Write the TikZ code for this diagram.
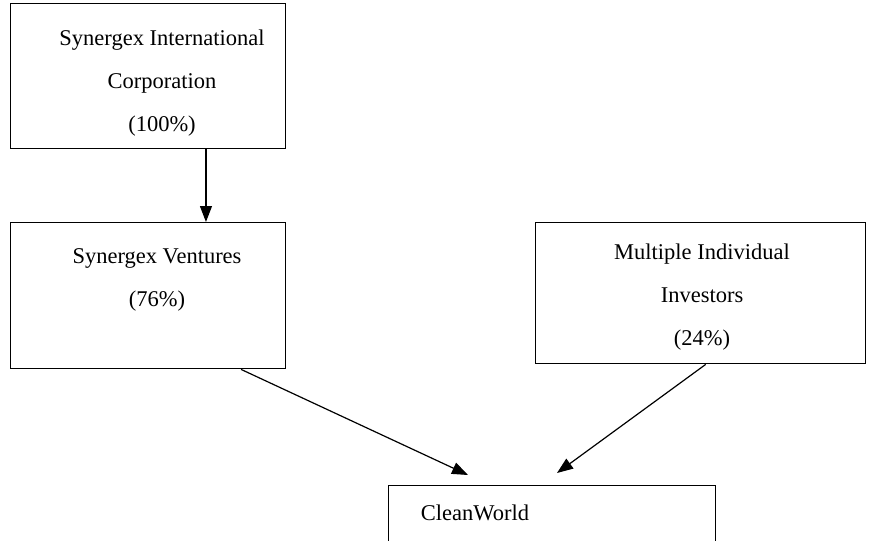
\documentclass[tikz,border=0pt]{standalone}
\usepackage{fontspec}
\setmainfont{Liberation Serif}
\usetikzlibrary{arrows.meta,calc}
\begin{document}
\begin{tikzpicture}[x=1pt,y=-1pt,
  boxstyle/.style={draw=black,line width=1.4pt,rectangle,inner sep=0pt},
  txt/.style={align=center,inner sep=0pt,font=\fontsize{22.5}{43}\selectfont},
  arr/.style={line width=1.2pt,-{Triangle[length=16pt,width=12pt]}}]
\useasboundingbox (0,0) rectangle (890,540);
\fill[white] (0,0) rectangle (890,540);
% boxes
\node[boxstyle,minimum width=275pt,minimum height=145pt,anchor=north west] (topbox) at (10,3) {};
\node[boxstyle,minimum width=275pt,minimum height=146pt,anchor=north west] (ventbox) at (10,222) {};
\node[boxstyle,minimum width=330pt,minimum height=141pt,anchor=north west] (invbox) at (535,222) {};
\node[boxstyle,minimum width=327pt,minimum height=80pt,anchor=north west] (cleanbox) at (388,485) {};
% texts
\node[txt] (toptxt) at (162,83) {Synergex International\\Corporation\\(100\%)};
\node[txt] (venttxt) at (157,280) {Synergex Ventures\\(76\%)};
\node[txt] (invtxt) at (702,297) {Multiple Individual\\Investors\\(24\%)};
\node[txt] (cleantxt) at (475,513) {CleanWorld};
% arrow tip positions
\coordinate (tipA) at (468,475);
\coordinate (tipB) at (557,473);
% connectors
\draw[arr] ($(topbox.south west)!0.709!(topbox.south east)$) -- ($(ventbox.north west)!0.709!(ventbox.north east)$);
\draw[arr] ($(ventbox.south west)!0.836!(ventbox.south east)$) -- (tipA);
\draw[arr] ($(invbox.south west)!0.515!(invbox.south east)$) -- (tipB);
\end{tikzpicture}
\end{document}
